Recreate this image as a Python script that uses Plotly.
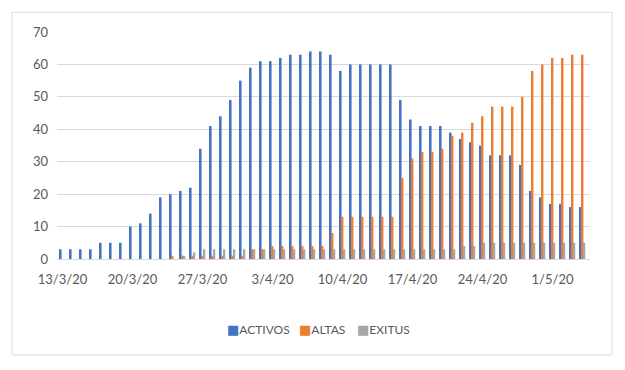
import plotly.graph_objects as go

days = list(range(53))
tick_pos = [0, 7, 14, 21, 28, 35, 42, 49]
tick_labels = ["13/3/20", "20/3/20", "27/3/20", "3/4/20", "10/4/20", "17/4/20", "24/4/20", "1/5/20"]

activos = [3, 3, 3, 3, 5, 5, 5, 10, 11, 14, 19, 20, 21, 22, 34, 41, 44, 49, 55, 59,
           61, 61, 62, 63, 63, 64, 64, 63, 58, 60, 60, 60, 60, 60, 49, 43, 41, 41, 41, 39,
           37, 36, 35, 32, 32, 32, 29, 21, 19, 17, 17, 16, 16]
altas = [0, 0, 0, 0, 0, 0, 0, 0, 0, 0, 0, 1, 1, 1, 1, 1, 1, 1, 1, 3,
         3, 4, 4, 4, 4, 4, 4, 8, 13, 13, 13, 13, 13, 13, 25, 31, 33, 33, 34, 38,
         39, 42, 44, 47, 47, 47, 50, 58, 60, 62, 62, 63, 63]
exitus = [0, 0, 0, 0, 0, 0, 0, 0, 0, 0, 0, 0, 1, 2, 3, 3, 3, 3, 3, 3,
          3, 3, 3, 3, 3, 3, 3, 3, 3, 3, 3, 3, 3, 3, 3, 3, 3, 3, 3, 3,
          4, 4, 5, 5, 5, 5, 5, 5, 5, 5, 5, 5, 5]

series_names = ["ACTIVOS", "ALTAS", "EXITUS"]
series_colors = ["#4472C4", "#ED7D31", "#A5A5A5"]

font_fam = "Lato, 'Open Sans', sans-serif"
txt = "#595959"

fig = go.Figure()
for name, vals, col in zip(series_names, [activos, altas, exitus], series_colors):
    fig.add_trace(go.Bar(x=days, y=vals, name=name, marker_color=col, marker_line_width=0))

L, R, T, B = 57, 35, 31.7, 111
fig.update_layout(
    width=625, height=370,
    margin=dict(l=L, r=R, t=T, b=B, pad=0),
    paper_bgcolor="white", plot_bgcolor="white",
    barmode="group", bargap=0.45, bargroupgap=0.0,
    font=dict(family=font_fam, color=txt, size=13),
    showlegend=False,
    xaxis=dict(range=[-0.55, 52.75], tickmode="array", tickvals=tick_pos, ticktext=tick_labels,
               showgrid=False, zeroline=False, showline=True, linecolor="#D9D9D9", linewidth=1,
               ticks="", tickfont=dict(size=13, color=txt), ticklabelstandoff=8),
    yaxis=dict(range=[0, 70], dtick=10, showgrid=True, gridcolor="#D9D9D9", gridwidth=1,
               zeroline=False, showline=False, ticks="", tickfont=dict(size=13, color=txt),
               ticklabelstandoff=8),
)

pw = 625 - L - R
ph = 370 - T - B

def px_x(p):
    return (p - L) / pw

def px_y(p):
    return (370 - B - p) / ph

fig.add_shape(type="rect", xref="paper", yref="paper", x0=px_x(12), x1=px_x(612),
              y0=px_y(355), y1=px_y(12),
              line=dict(color="#D9D9D9", width=1), fillcolor="rgba(0,0,0,0)", layer="below")

# legend drawn as text annotations (compact, Excel-like)
legend_left = [225, 297, 355]
for name, col, xl in zip(series_names, series_colors, legend_left):
    fig.add_annotation(xref="paper", yref="paper", x=px_x(xl), y=px_y(330),
                       xanchor="left", yanchor="middle", showarrow=False,
                       text=f"<span style='color:{col};font-size:13px;font-family:DejaVu Sans'>■</span>{name}",
                       font=dict(size=12, color=txt, family=font_fam))

fig.write_html("out.html", config={"displayModeBar": False},
               post_script="document.body.style.margin='0';")
